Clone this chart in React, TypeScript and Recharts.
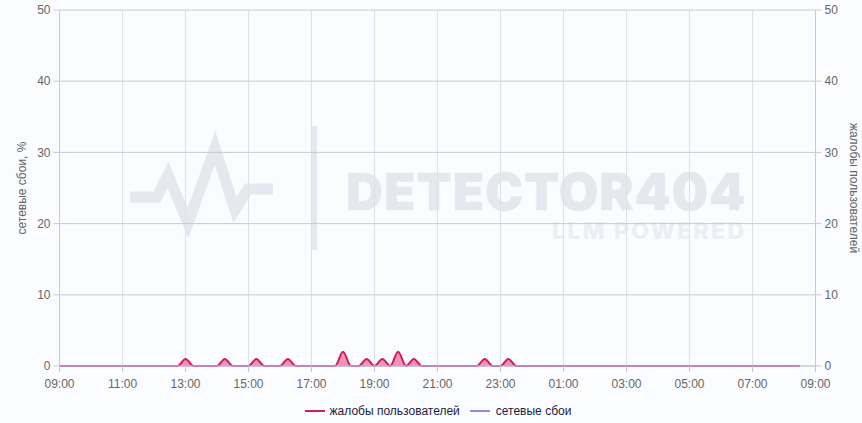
import { ComposedChart, Area, XAxis, YAxis, CartesianGrid, Legend } from 'recharts';

const times: string[] = [
    '09:00', '09:15', '09:30', '09:45', '10:00', '10:15', '10:30', '10:45',
    '11:00', '11:15', '11:30', '11:45', '12:00', '12:15', '12:30', '12:45',
    '13:00', '13:15', '13:30', '13:45', '14:00', '14:15', '14:30', '14:45',
    '15:00', '15:15', '15:30', '15:45', '16:00', '16:15', '16:30', '16:45',
    '17:00', '17:15', '17:30', '17:45', '18:00', '18:15', '18:30', '18:45',
    '19:00', '19:15', '19:30', '19:45', '20:00', '20:15', '20:30', '20:45',
    '21:00', '21:15', '21:30', '21:45', '22:00', '22:15', '22:30', '22:45',
    '23:00', '23:15', '23:30', '23:45', '00:00', '00:15', '00:30', '00:45',
    '01:00', '01:15', '01:30', '01:45', '02:00', '02:15', '02:30', '02:45',
    '03:00', '03:15', '03:30', '03:45', '04:00', '04:15', '04:30', '04:45',
    '05:00', '05:15', '05:30', '05:45', '06:00', '06:15', '06:30', '06:45',
    '07:00', '07:15', '07:30', '07:45', '08:00', '08:15', '08:30', '08:45',
    '09:00',
];

const complaints: (number | null)[] = [
    0, 0, 0, 0, 0, 0, 0, 0,
    0, 0, 0, 0, 0, 0, 0, 0,
    1, 0, 0, 0, 0, 1, 0, 0,
    0, 1, 0, 0, 0, 1, 0, 0,
    0, 0, 0, 0, 2, 0, 0, 1,
    0, 1, 0, 2, 0, 1, 0, 0,
    0, 0, 0, 0, 0, 0, 1, 0,
    0, 1, 0, 0, 0, 0, 0, 0,
    0, 0, 0, 0, 0, 0, 0, 0,
    0, 0, 0, 0, 0, 0, 0, 0,
    0, 0, 0, 0, 0, 0, 0, 0,
    0, 0, 0, 0, 0, 0, 0, null,
    null,
];

const outages: (number | null)[] = [
    0, 0, 0, 0, 0, 0, 0, 0,
    0, 0, 0, 0, 0, 0, 0, 0,
    0, 0, 0, 0, 0, 0, 0, 0,
    0, 0, 0, 0, 0, 0, 0, 0,
    0, 0, 0, 0, 0, 0, 0, 0,
    0, 0, 0, 0, 0, 0, 0, 0,
    0, 0, 0, 0, 0, 0, 0, 0,
    0, 0, 0, 0, 0, 0, 0, 0,
    0, 0, 0, 0, 0, 0, 0, 0,
    0, 0, 0, 0, 0, 0, 0, 0,
    0, 0, 0, 0, 0, 0, 0, 0,
    0, 0, 0, 0, 0, 0, 0, null,
    null,
];

const yTicks = [0, 10, 20, 30, 40, 50];

const COMPLAINTS_NAME = 'жалобы пользователей';
const OUTAGES_NAME = 'сетевые сбои';
const PINK = '#d01c5f';
const PURPLE = '#9a8ae0';
const LOGO = '#e5e8ee';
const FONT = '"Liberation Sans", Arial, sans-serif';

const data = times.map((time, i) => ({
    time,
    complaints: complaints[i],
    outages: outages[i],
}));

// logo behind the chart, gridlines run over it
const Watermark = () => (
    <svg width={862} height={423} style={{ position: 'absolute', left: 0, top: 0 }}>
        <polyline
            points="130,197 157,197 168,175 188,223 215,148 235,210 248,189 273,189"
            fill="none"
            stroke={LOGO}
            strokeWidth={11}
        />
        <rect x={312} y={126} width={5} height={124} fill={LOGO} />
        <text x={346} y={210} fontFamily="Inter" fontWeight={900} fontSize={51} fill={LOGO} stroke={LOGO} strokeWidth={0.5} textLength={399}>
            DETECTOR404
        </text>
        <text x={552} y={239} fontFamily="Inter" fontWeight={800} fontSize={23} fill="#eceef3" textLength={192}>
            LLM POWERED
        </text>
    </svg>
);

const ChartLegend = () => (
    <div style={{ display: 'flex', justifyContent: 'center', alignItems: 'center', fontSize: 12, color: '#1c1c3c', paddingLeft: 14, paddingTop: 8 }}>
        <span style={{ width: 20, height: 2, background: PINK, marginRight: 5 }} />
        <span style={{ marginRight: 10 }}>{COMPLAINTS_NAME}</span>
        <span style={{ width: 20, height: 2, background: PURPLE, marginRight: 6 }} />
        <span>{OUTAGES_NAME}</span>
    </div>
);

export default function App() {
    const tick = { fill: '#666', fontSize: 12, fontFamily: FONT };
    return (
        <div style={{ position: 'absolute', left: 0, top: 0, width: 862, height: 423, background: '#fbfcff', fontFamily: FONT, overflow: 'hidden' }}>
            <Watermark />
            <ComposedChart
                width={862}
                height={423}
                data={data}
                margin={{ top: 10, right: 0, bottom: 0, left: 0 }}
                style={{ position: 'absolute', left: 0, top: 0 }}
            >
                <CartesianGrid stroke="#dfe0e4" horizontal={false} yAxisId="left" />
                <CartesianGrid stroke="#c9cad0" vertical={false} yAxisId="left" />
                <XAxis dataKey="time" interval={7} height={30} tick={tick} tickMargin={7} stroke="#c8c8ce" tickLine={{ stroke: '#c8c8ce' }} />
                <YAxis
                    yAxisId="left"
                    width={59.5}
                    domain={[0, 50]}
                    ticks={yTicks}
                    tick={tick}
                    tickMargin={3}
                    stroke="#c8c8ce"
                    label={{ value: 'сетевые сбои, %', angle: -90, position: 'insideLeft', offset: 22, style: { fill: '#666', fontSize: 12, textAnchor: 'middle' } }}
                />
                <YAxis
                    yAxisId="right"
                    orientation="right"
                    width={46.5}
                    domain={[0, 50]}
                    ticks={yTicks}
                    tick={tick}
                    tickMargin={3}
                    stroke="#c8c8ce"
                    label={{ value: 'жалобы пользователей', angle: 90, position: 'insideRight', offset: 8, style: { fill: '#666', fontSize: 12, textAnchor: 'middle' } }}
                />
                <Area
                    yAxisId="right"
                    type="monotone"
                    dataKey="complaints"
                    name={COMPLAINTS_NAME}
                    stroke={PINK}
                    strokeWidth={2}
                    fill="#ee4f87"
                    fillOpacity={0.6}
                    dot={false}
                    activeDot={false}
                    isAnimationActive={false}
                />
                <Area
                    yAxisId="left"
                    type="monotone"
                    dataKey="outages"
                    name={OUTAGES_NAME}
                    stroke={PURPLE}
                    strokeOpacity={0.4}
                    strokeWidth={2}
                    fill={PURPLE}
                    fillOpacity={0.3}
                    dot={false}
                    activeDot={false}
                    isAnimationActive={false}
                />
                <Legend verticalAlign="bottom" height={27} content={<ChartLegend />} />
            </ComposedChart>
        </div>
    );
}
